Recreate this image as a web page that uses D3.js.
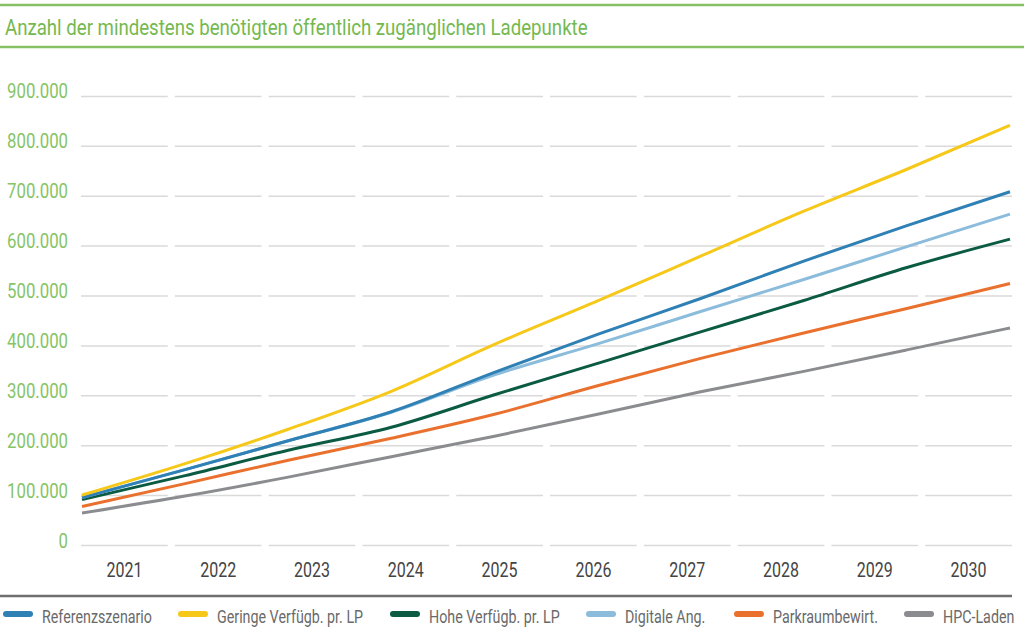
<!DOCTYPE html>
<html><head><meta charset="utf-8">
<script src="https://cdn.jsdelivr.net/npm/d3@7/dist/d3.min.js"></script>
<style>
html,body{margin:0;padding:0;background:#fff;}
svg{display:block;}
text{font-family:Roboto,"Liberation Sans",sans-serif;}
</style></head>
<body>
<svg id="c" width="1024" height="638"></svg>
<script>
const title = "Anzahl der mindestens benötigten öffentlich zugänglichen Ladepunkte";
const years = ["2021","2022","2023","2024","2025","2026","2027","2028","2029","2030"];
const yTicks = [0,100000,200000,300000,400000,500000,600000,700000,800000,900000];
const seriesNames = ["Referenzszenario","Geringe Verfügb. pr. LP","Hohe Verfügb. pr. LP","Digitale Ang.","Parkraumbewirt.","HPC-Laden"];
const referenz  = [96000,152000,210000,268000,347000,423000,495000,570000,641000,709000];
const geringe   = [101000,164000,233000,309000,403000,490000,580000,670000,754000,842000];
const hohe      = [92000,140000,191000,237000,302000,365000,428000,491000,557000,614000];
const digitale  = [96000,152000,210000,267000,342000,404000,469000,533000,599000,664000];
const parkraum  = [78000,124000,171000,215000,263000,320000,375000,426000,475000,525000];
const hpc       = [65000,99000,137000,178000,219000,263000,308000,349000,392000,436000];
const seriesValues = [referenz,geringe,hohe,digitale,parkraum,hpc];
const colors = ["#2f80b5","#f6c81a","#0b5b43","#8bbcdc","#e9712d","#8b8c8f"];
const drawOrder = [5,4,2,3,0,1];
const legendX = [3,178,390,586,734,904];

const svg = d3.select("#c");
const green = "#86c263";

function condense(sel, refNode, target){
  const k = target / refNode.getComputedTextLength();
  sel.each(function(){
    const x = +(this.getAttribute("x")||0), y = +(this.getAttribute("y")||0);
    this.setAttribute("x",0); this.setAttribute("y",0);
    this.setAttribute("transform",`translate(${x},${y}) scale(${k.toFixed(4)},1)`);
  });
}

svg.append("line").attr("x1",0).attr("x2",1024).attr("y1",5).attr("y2",5)
  .attr("stroke",green).attr("stroke-width",2.5);
svg.append("line").attr("x1",0).attr("x2",1024).attr("y1",47).attr("y2",47)
  .attr("stroke",green).attr("stroke-width",2.5);
const t = svg.append("text").attr("x",5).attr("y",35).attr("fill","#74b94f")
  .attr("font-size",21.5).text(title);
condense(t, t.node(), 583);

const yScale = d3.scaleLinear().domain([0,900000]).range([545.5,96.4]);
const xBand = d3.scaleBand().domain(years).range([81,1012]).paddingInner(0.075).paddingOuter(0);
const xPoint = d3.scalePoint().domain(years).range([82,1010]);

const de = d3.formatLocale({decimal:",",thousands:".",grouping:[3],currency:["","€"]});
const fmt = de.format(",");

const grid = svg.append("g");
yTicks.forEach(v=>{
  grid.selectAll(null).data(years).enter().append("line")
    .attr("x1",d=>xBand(d)).attr("x2",d=>xBand(d)+xBand.bandwidth())
    .attr("y1",yScale(v)).attr("y2",yScale(v))
    .attr("stroke","#dadada").attr("stroke-width",1.5);
});

const yAxis = d3.axisLeft(yScale).tickValues(yTicks).tickFormat(fmt).tickSize(0).tickPadding(0);
const ya = svg.append("g").attr("transform","translate(68,0)").call(yAxis);
ya.select(".domain").remove();
ya.selectAll("text").attr("fill","#86c466").attr("font-size",20.5)
  .attr("font-family","Roboto,sans-serif").attr("dy","0").attr("y",1.5);
const yLabs = ya.selectAll("text");
condense(yLabs, yLabs.filter(d=>d===900000).node(), 61);

const xAxis = d3.axisBottom(xBand).tickSize(0).tickPadding(0);
const xa = svg.append("g").attr("transform","translate(0,577)").call(xAxis);
xa.select(".domain").remove();
xa.selectAll("text").attr("fill","#444").attr("font-size",20)
  .attr("font-family","Roboto,sans-serif").attr("dy","0").attr("y",0);
const xLabs = xa.selectAll("text");
condense(xLabs, xLabs.node(), 36);

const line = d3.line().x((d,i)=>xPoint(years[i])).y(d=>yScale(d)).curve(d3.curveMonotoneX);
svg.append("g").selectAll("path").data(drawOrder).enter().append("path")
  .attr("d",i=>line(seriesValues[i])).attr("fill","none")
  .attr("stroke",i=>colors[i]).attr("stroke-width",3).attr("stroke-linejoin","round");

svg.append("line").attr("x1",0).attr("x2",1012).attr("y1",596).attr("y2",596)
  .attr("stroke","#6f6f6f").attr("stroke-width",2.5);

const lg = svg.append("g");
const items = lg.selectAll("g").data(seriesNames).enter().append("g")
  .attr("transform",(d,i)=>`translate(${legendX[i]},614)`);
items.append("line").attr("x1",3).attr("x2",27).attr("y1",0).attr("y2",0)
  .attr("stroke",(d,i)=>colors[i]).attr("stroke-width",6).attr("stroke-linecap","round");
const lt = items.append("text").attr("x",39).attr("y",8.5).attr("fill","#6a6a6a")
  .attr("font-size",17.5).text(d=>d);
condense(lt, lt.node(), 110);
</script>
</body></html>
